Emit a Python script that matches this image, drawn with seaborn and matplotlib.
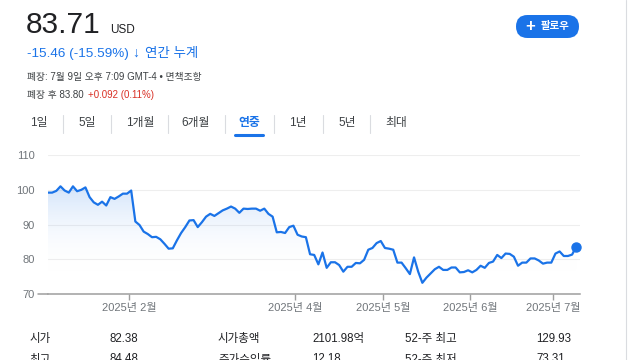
import numpy as np
import pandas as pd
import matplotlib
matplotlib.use("Agg")
import matplotlib.pyplot as plt
import seaborn as sns
from matplotlib.lines import Line2D
from matplotlib.patches import FancyBboxPatch

# closing prices, 2025 year to date
prices = [
    99.2, 99.2, 99.7, 101.0, 99.8, 99.2, 101.0, 99.6, 100.0, 100.7,
    97.9, 96.4, 95.7, 96.6, 95.5, 97.9, 97.4, 98.1, 98.9, 98.9,
    99.8, 90.9, 89.9, 88.0, 87.3, 86.4, 86.5, 85.8, 84.5, 83.1,
    83.2, 85.5, 87.6, 89.3, 91.2, 91.3, 89.3, 90.7, 92.3, 93.1,
    92.5, 93.3, 94.1, 94.6, 95.2, 94.6, 93.4, 94.6, 94.5, 94.6,
    94.6, 94.0, 94.6, 93.1, 92.3, 87.8, 87.9, 87.6, 89.3, 89.7,
    87.1, 86.6, 86.4, 81.5, 81.3, 78.6, 82.0, 77.6, 79.2, 79.2,
    78.4, 76.5, 77.9, 77.9, 79.0, 78.9, 79.9, 82.8, 83.3, 84.7,
    85.3, 83.3, 83.1, 82.8, 79.1, 79.1, 77.5, 75.8, 80.6, 76.5,
    73.3, 74.8, 76.0, 77.2, 77.9, 77.0, 77.0, 77.7, 77.7, 76.3,
    76.4, 76.9, 76.3, 77.0, 78.2, 77.6, 79.0, 79.4, 81.3, 80.4,
    81.7, 81.6, 80.8, 78.2, 79.1, 79.1, 80.3, 80.3, 79.7, 78.8,
    79.1, 79.1, 81.7, 82.3, 81.0, 81.0, 81.4, 83.71,
]
holidays = ["2025-01-09", "2025-01-20", "2025-02-17", "2025-04-18",
            "2025-05-26", "2025-06-19", "2025-07-04"]
tick_months = [2, 4, 5, 6, 7]
yticks = [70, 80, 90, 100, 110]
tabs = ["1일", "5일", "1개월", "6개월", "연중", "1년", "5년", "최대"]
stats_row1 = ["시가", "82.38", "시가총액", "2101.98억", "52-주 최고", "129.93"]
stats_row2 = ["최고", "84.48", "주가수익률", "12.18", "52-주 최저", "73.31"]

BLUE = "#1a73e8"
GRAY = "#70757a"
DARK = "#202124"

days = pd.bdate_range("2025-01-02", "2025-07-09")
days = days[~days.isin(pd.to_datetime(holidays))]
df = pd.DataFrame({"day": np.arange(len(days)), "date": days, "price": prices})

sns.set_theme(style="white")
plt.rcParams["font.family"] = ["Liberation Sans", "Noto Sans CJK KR", "DejaVu Sans"]

W, H = 640, 360
fig = plt.figure(figsize=(6.4, 3.6), dpi=100)


def px(x, y):
    return x / W, 1 - y / H


def fig_line(xs, ys, **kw):
    fig.add_artist(Line2D([x / W for x in xs], [1 - y / H for y in ys], **kw))


# header
fig.text(*px(26, 33), "83.71", fontsize=21.5, va="baseline", color=DARK)
fig.text(*px(110, 33), "USD", fontsize=8.5, va="baseline", color=DARK)
fig.text(*px(27, 57), "-15.46 (-15.59%)", fontsize=9.7, va="baseline", color=BLUE)
fig.text(*px(132, 57), "↓", fontsize=10, va="baseline", color=BLUE, fontweight="bold")
fig.text(*px(145, 57), "연간 누계", fontsize=9.7, va="baseline", color=BLUE)
fig.text(*px(27, 77), "폐장: 7월 9일 오후 7:09 GMT-4 • 면책조항", fontsize=7, va="center", color="#3c4043")
fig.text(*px(27, 95), "폐장 후 83.80", fontsize=7, va="center", color="#3c4043")
fig.text(*px(88, 95), "+0.092 (0.11%)", fontsize=7, va="center", color="#d93025")

# follow button
fig.add_artist(FancyBboxPatch((516 / 100, (H - 38) / 100), 63 / 100, 23 / 100,
                              boxstyle="round,pad=0,rounding_size=0.115",
                              transform=fig.dpi_scale_trans, fc=BLUE, ec="none"))
fig.text(*px(530, 26.5), "+", fontsize=12, ha="center", va="center", color="white", fontweight="bold")
fig.text(*px(555, 26.5), "팔로우", fontsize=7.5, ha="center", va="center", color="white", fontweight="bold")

# range tabs
tab_x = [39, 87, 140, 196, 249, 298, 347, 396]
for label, x in zip(tabs, tab_x):
    active = label == "연중"
    fig.text(*px(x, 123), label, fontsize=8.5, ha="center", va="center",
             color=BLUE if active else "#3c4043", fontweight="bold" if active else "normal")
for x in [63, 111, 168, 225, 274, 323, 370]:
    fig_line([x, x], [115, 133], color="#dadce0", lw=0.8)
fig_line([235, 263], [135, 135], color=BLUE, lw=2.2, solid_capstyle="round")

# right divider
fig_line([626, 626], [0, 360], color="#dadce0", lw=0.8)

# chart
ax = fig.add_axes([48 / W, 1 - 294.3 / H, 532 / W, 139.3 / H])
ax.set_xlim(0, 127.9)
ax.set_ylim(70, 110)

fill = ax.fill_between(df["day"], df["price"], 70, color="none", lw=0)
grad = np.linspace(0, 1, 256).reshape(-1, 1)
cmap = matplotlib.colors.LinearSegmentedColormap.from_list(
    "g", [(1, 1, 1, 0), (0.10, 0.45, 0.91, 0.20)])
img = ax.imshow(grad, cmap=cmap, aspect="auto", origin="lower",
                extent=[0, 127.9, 76, 101.5], zorder=1)
img.set_clip_path(fill.get_paths()[0], transform=ax.transData)

sns.lineplot(data=df, x="day", y="price", ax=ax, color=BLUE, lw=1.6, zorder=3)
ax.plot(df["day"].iloc[-1], df["price"].iloc[-1], "o", ms=6.5, color=BLUE, zorder=4, clip_on=False)

month_idx = [int(np.argmax(df["date"].dt.month.values == m)) - 0.5 for m in tick_months]
ax.set_xticks(month_idx)
ax.set_xticklabels([f"2025년 {m}월" for m in tick_months])
ax.set_yticks(yticks)
ax.set_yticklabels([str(v) for v in yticks])
ax.set_xlabel("")
ax.set_ylabel("")
ax.yaxis.grid(True, color="#eeeeee", lw=0.8)
ax.set_axisbelow(True)
for side in ["top", "right", "left"]:
    ax.spines[side].set_visible(False)
ax.spines["bottom"].set_color("#9e9e9e")
ax.spines["bottom"].set_linewidth(1.1)
ax.tick_params(axis="x", bottom=True, length=4.5, width=1, color="#9e9e9e",
               labelsize=8, labelcolor=GRAY, pad=1.5)
ax.tick_params(axis="y", left=False, labelsize=8, labelcolor=GRAY, pad=3.5)
fig_line([38, 48], [294.3, 294.3], color="#9e9e9e", lw=1.1)

# stats (the second row is cut by the bottom edge, as in the source)
stat_x = [29, 109, 218, 312, 405, 536]
for row, y in [(stats_row1, 339), (stats_row2, 359.5)]:
    for label, x in zip(row, stat_x):
        fig.text(*px(x, y), label, fontsize=8.3, va="center", color=DARK)

fig.savefig("out.png", dpi=100)
